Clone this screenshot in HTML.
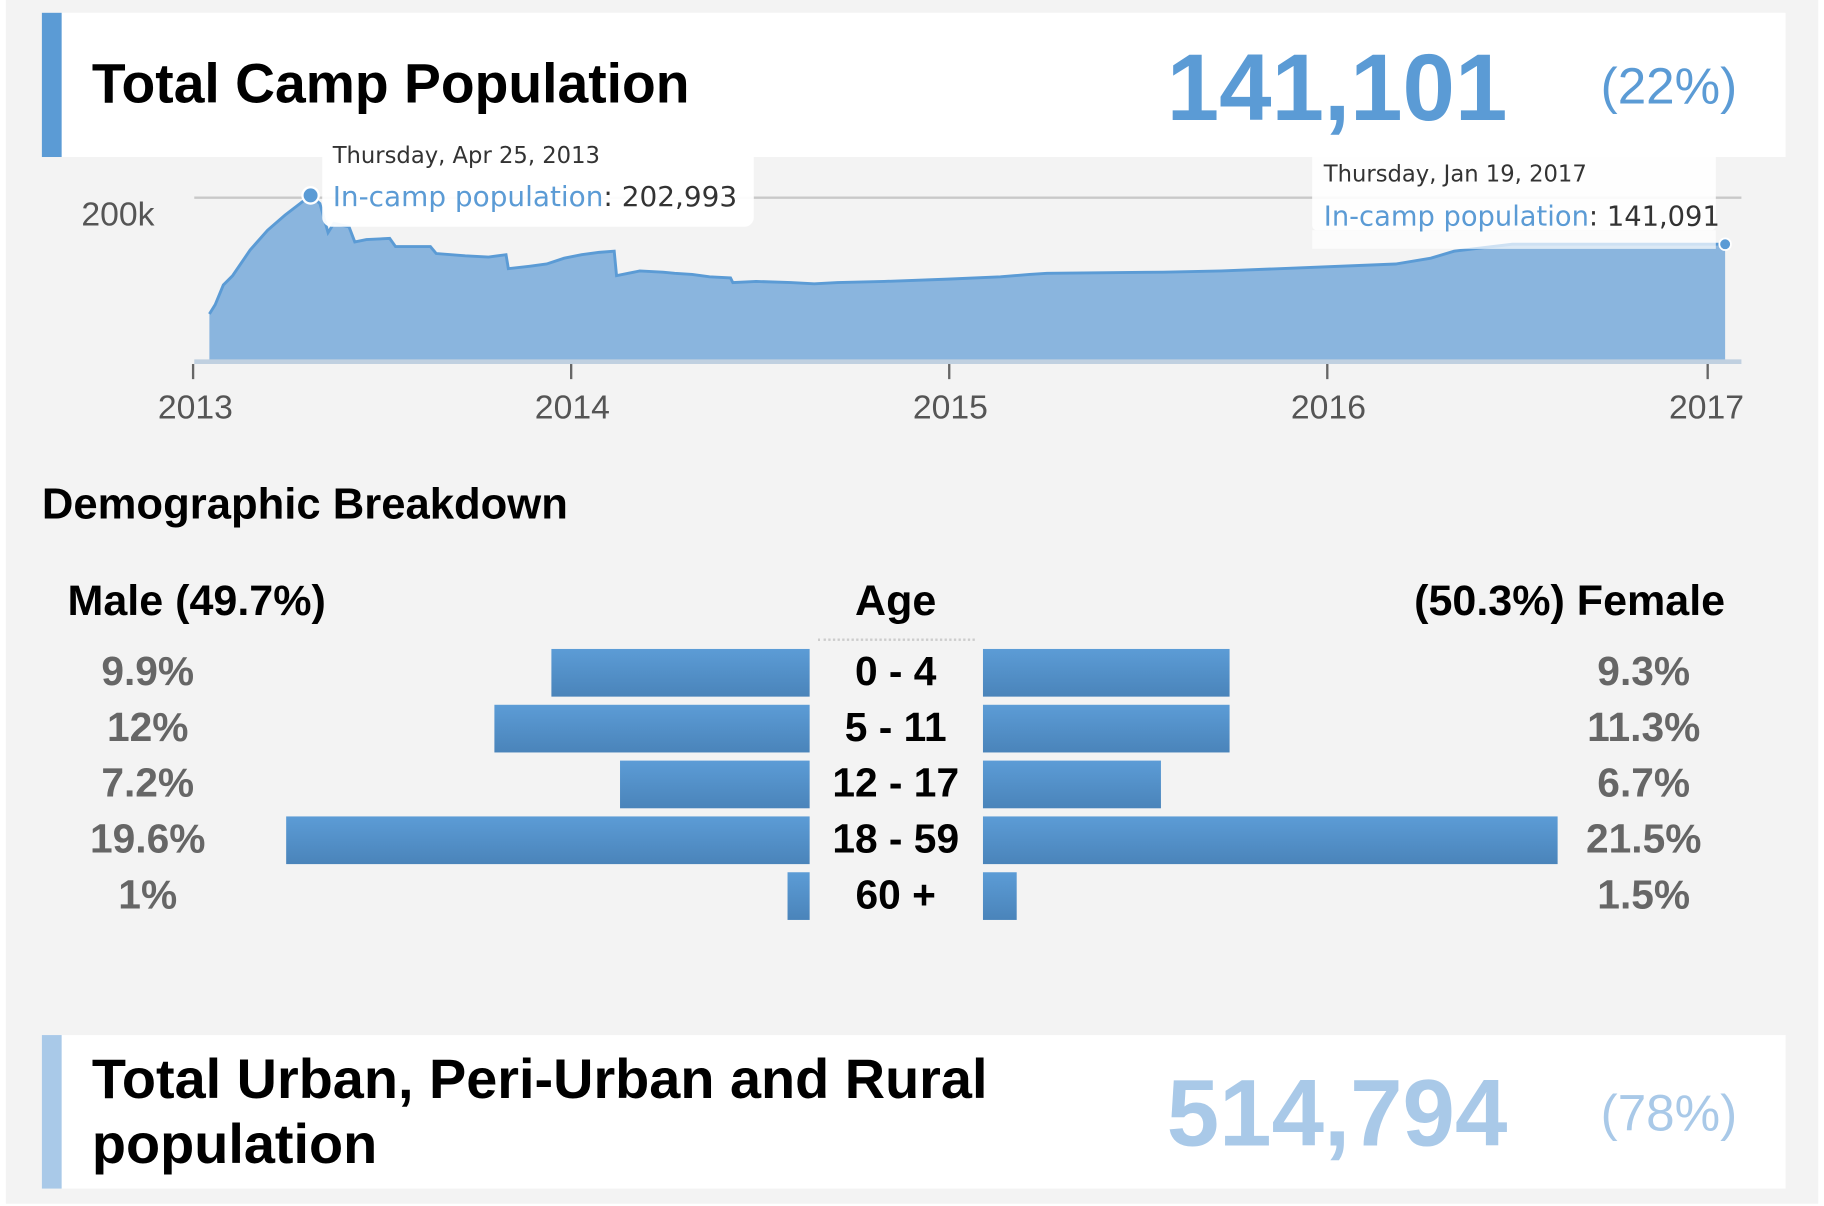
<!DOCTYPE html>
<html><head><meta charset="utf-8"><style>
html,body{margin:0;padding:0;background:#fff;}
#w{width:1568px;height:1037px;transform:scale(1.16327,1.1630);transform-origin:0 0;position:relative;font-family:"Liberation Sans",sans-serif;overflow:hidden}
.bg{position:absolute;left:5px;top:0;width:1558px;height:1035px;background:#f3f3f3}
.box{position:absolute;left:36px;width:1499px;background:#fff}
.bar{position:absolute;left:0;top:0;width:17px;height:100%}
.t{position:absolute;white-space:nowrap}
.b{font-weight:bold}
.hb{position:absolute;height:41px;background:linear-gradient(#5c9cd6,#4a84ba)}
.pct{position:absolute;width:200px;text-align:center;font-size:35px;font-weight:bold;color:#666}
.age{position:absolute;left:700px;width:140px;text-align:center;font-size:35px;font-weight:bold;color:#000}
</style></head><body><div id="w">
<div class="bg"></div>
<div class="box" style="top:11px;height:124px"><div class="bar" style="background:#5b9bd5"></div></div>
<div class="t b" style="left:79px;top:45px;font-size:47.5px">Total Camp Population</div>
<div class="t b" style="left:1003px;top:30px;font-size:81px;color:#5b9bd5">141,101</div>
<div class="t" style="left:1376px;top:50px;font-size:44px;color:#5b9bd5">(22%)</div>

<svg style="position:absolute;left:0;top:0" width="1568" height="400">
<line x1="167" y1="170" x2="1497" y2="170" stroke="#c8c8c8" stroke-width="2"/>
<path d="M180,311 L180,270 L185,262 L192,245 L200,237 L215,215 L230,198 L245,185 L258,175 L267,168 L275,175 L282,200 L287,192 L300,195 L305,208 L315,206 L335,205 L340,212 L350,212 L370,212 L375,218 L400,220 L420,221 L435,219 L437,231 L455,229 L470,227 L485,222 L500,219 L515,217 L528,216 L530,237 L540,235 L550,233 L570,234 L580,235 L595,236 L610,238 L628,239 L630,243 L650,242 L680,243 L700,244 L720,243 L760,242 L815,240 L860,238 L885,236 L900,235 L1000,234 L1050,233 L1100,231 L1200,227 L1230,222 L1250,216 L1300,210 L1400,210 L1480,210 L1483,212 L1483,311 Z" fill="#8ab5de" stroke="none"/>
<path d="M180,270 L185,262 L192,245 L200,237 L215,215 L230,198 L245,185 L258,175 L267,168 L275,175 L282,200 L287,192 L300,195 L305,208 L315,206 L335,205 L340,212 L350,212 L370,212 L375,218 L400,220 L420,221 L435,219 L437,231 L455,229 L470,227 L485,222 L500,219 L515,217 L528,216 L530,237 L540,235 L550,233 L570,234 L580,235 L595,236 L610,238 L628,239 L630,243 L650,242 L680,243 L700,244 L720,243 L760,242 L815,240 L860,238 L885,236 L900,235 L1000,234 L1050,233 L1100,231 L1200,227 L1230,222 L1250,216 L1300,210 L1400,210 L1480,210 L1483,212" fill="none" stroke="#5b9bd5" stroke-width="2.5"/>
<line x1="167" y1="311" x2="1497" y2="311" stroke="#c0d0e0" stroke-width="4"/>
<g stroke="#666" stroke-width="2"><line x1="166" y1="313" x2="166" y2="326"/><line x1="491" y1="313" x2="491" y2="326"/><line x1="816" y1="313" x2="816" y2="326"/><line x1="1141" y1="313" x2="1141" y2="326"/><line x1="1468" y1="313" x2="1468" y2="326"/></g>
<g font-family="Liberation Sans" font-size="29" fill="#555" text-anchor="middle"><text x="168" y="360">2013</text><text x="492" y="360">2014</text><text x="817" y="360">2015</text><text x="1142" y="360">2016</text><text x="1467" y="360">2017</text></g>
<text x="70" y="194" font-family="Liberation Sans" font-size="29" fill="#555">200k</text>
<rect x="277" y="107" width="371" height="88" rx="8" fill="#fff" fill-opacity="0.95"/>
<rect x="1128" y="118" width="347" height="80" rx="4" fill="#fff" fill-opacity="0.9"/>
<rect x="1128" y="198" width="347" height="16" fill="#fff" fill-opacity="0.7"/>
<circle cx="267" cy="168" r="7" fill="#5b9bd5" stroke="#fff" stroke-width="2"/>
<circle cx="1483" cy="210" r="5" fill="#5b9bd5" stroke="#fff" stroke-width="1.5"/>
<text x="286" y="140" font-family="DejaVu Sans" font-size="19.5" fill="#333">Thursday, Apr 25, 2013</text>
<text x="286" y="177" font-family="DejaVu Sans" font-size="24"><tspan fill="#5b9bd5">In-camp population</tspan><tspan fill="#333">: 202,993</tspan></text>
<text x="1138" y="156" font-family="DejaVu Sans" font-size="19.5" fill="#333">Thursday, Jan 19, 2017</text>
<text x="1138" y="194" font-family="DejaVu Sans" font-size="23.5"><tspan fill="#5b9bd5">In-camp population</tspan><tspan fill="#333">: 141,091</tspan></text>
</svg>

<div class="t b" style="left:36px;top:412px;font-size:37.5px">Demographic Breakdown</div>
<div class="t b" style="left:58px;top:496px;font-size:37px">Male (49.7%)</div>
<div class="t b" style="left:700px;width:140px;text-align:center;top:496px;font-size:37px">Age</div>
<div class="t b" style="right:85px;top:496px;font-size:37px">(50.3%) Female</div>
<div style="position:absolute;left:703px;top:549px;width:135px;border-top:2px dotted #ccc"></div>

<div class="hb" style="left:474px;width:222px;top:558px"></div><div class="hb" style="left:845px;width:212px;top:558px"></div>
<div class="hb" style="left:425px;width:271px;top:606px"></div><div class="hb" style="left:845px;width:212px;top:606px"></div>
<div class="hb" style="left:533px;width:163px;top:654px"></div><div class="hb" style="left:845px;width:153px;top:654px"></div>
<div class="hb" style="left:246px;width:450px;top:702px"></div><div class="hb" style="left:845px;width:494px;top:702px"></div>
<div class="hb" style="left:677px;width:19px;top:750px"></div><div class="hb" style="left:845px;width:29px;top:750px"></div>

<div class="age" style="top:558px">0 - 4</div>
<div class="age" style="top:606px">5 - 11</div>
<div class="age" style="top:654px">12 - 17</div>
<div class="age" style="top:702px">18 - 59</div>
<div class="age" style="top:750px">60 +</div>

<div class="pct" style="left:27px;top:558px">9.9%</div><div class="pct" style="left:1313px;top:558px">9.3%</div>
<div class="pct" style="left:27px;top:606px">12%</div><div class="pct" style="left:1313px;top:606px">11.3%</div>
<div class="pct" style="left:27px;top:654px">7.2%</div><div class="pct" style="left:1313px;top:654px">6.7%</div>
<div class="pct" style="left:27px;top:702px">19.6%</div><div class="pct" style="left:1313px;top:702px">21.5%</div>
<div class="pct" style="left:27px;top:750px">1%</div><div class="pct" style="left:1313px;top:750px">1.5%</div>

<div class="box" style="top:890px;height:132px"><div class="bar" style="background:#a9c9e8"></div></div>
<div class="t b" style="left:79px;top:901px;font-size:48px;line-height:56px">Total Urban, Peri-Urban and Rural<br>population</div>
<div class="t b" style="left:1003px;top:912px;font-size:81px;color:#a9c9e8">514,794</div>
<div class="t" style="left:1376px;top:933px;font-size:44px;color:#a9c9e8">(78%)</div>
</div></body></html>
